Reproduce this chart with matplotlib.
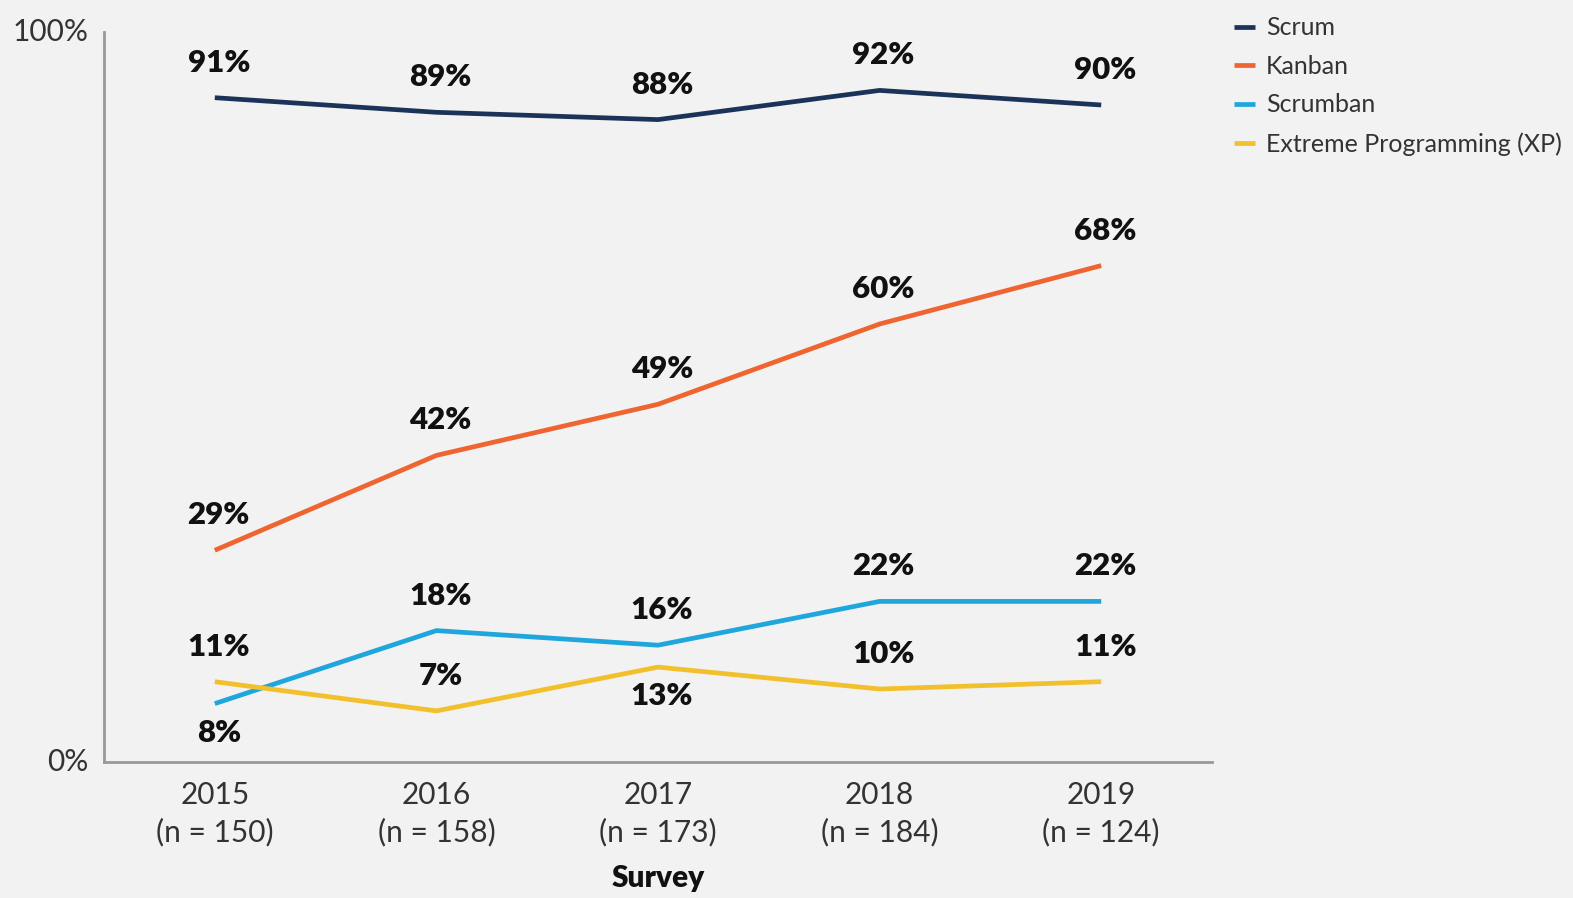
import matplotlib
matplotlib.use("Agg")
import matplotlib.pyplot as plt

years = ["2015\n(n = 150)", "2016\n(n = 158)", "2017\n(n = 173)", "2018\n(n = 184)", "2019\n(n = 124)"]
scrum = [91, 89, 88, 92, 90]
kanban = [29, 42, 49, 60, 68]
scrumban = [8, 18, 16, 22, 22]
xp = [11, 7, 13, 10, 11]

series_names = ["Scrum", "Kanban", "Scrumban", "Extreme Programming (XP)"]
series_vals = [scrum, kanban, scrumban, xp]
colors = ["#1b3358", "#ee6531", "#1fa6dc", "#f2c02c"]
# label placement: +1 above, -1 below
label_side = [
    [1, 1, 1, 1, 1],
    [1, 1, 1, 1, 1],
    [-1, 1, 1, 1, 1],
    [1, 1, -1, 1, 1],
]

plt.rcParams['font.family'] = ['Lato', 'DejaVu Sans']
bg = "#f2f2f2"
fig = plt.figure(figsize=(15.73, 8.98), dpi=100, facecolor=bg)
ax = fig.add_axes([104/1573, 1-762/898, (1212-104)/1573, (762-32)/898])
ax.set_facecolor(bg)

x = list(range(len(years)))
for name, vals, c, sides in zip(series_names, series_vals, colors, label_side):
    ax.plot(x, vals, color=c, lw=3.4, label=name, solid_capstyle='butt')
    for xi, v, s in zip(x, vals, sides):
        ax.annotate(f"{v}%", (xi, v), xytext=(4, 35 if s > 0 else -29),
                    textcoords='offset pixels', ha='center', va='center',
                    fontsize=22.5, fontweight='heavy', color='#111111')

ax.set_xlim(-0.5, 4.5)
ax.set_ylim(0, 100)
ax.set_yticks([0, 100])
ax.set_yticklabels(["0%", "100%"])
ax.set_xticks(x)
ax.set_xticklabels(years, linespacing=1.35)
ax.tick_params(axis='both', length=0, labelsize=21.5, labelcolor='#333333')
ax.tick_params(axis='x', pad=14)
ax.tick_params(axis='y', pad=11)
for lbl in ax.get_yticklabels():
    lbl.set_verticalalignment('center')
for sp in ['top', 'right']:
    ax.spines[sp].set_visible(False)
for sp in ['left', 'bottom']:
    ax.spines[sp].set_color('#999999')
    ax.spines[sp].set_linewidth(2)

ax.set_xlabel("Survey", fontsize=21.5, fontweight='heavy', color='#111111', labelpad=13)

leg = fig.legend(loc='upper left', bbox_to_anchor=(1211/1573, 1+6/898), frameon=False,
                 handlelength=0.85, handletextpad=0.45, labelspacing=0.62, fontsize=18)
for t in leg.get_texts():
    t.set_color('#333333')
for h in leg.legend_handles:
    h.set_linewidth(3.4)

fig.savefig("out.png", dpi=100, facecolor=bg)
